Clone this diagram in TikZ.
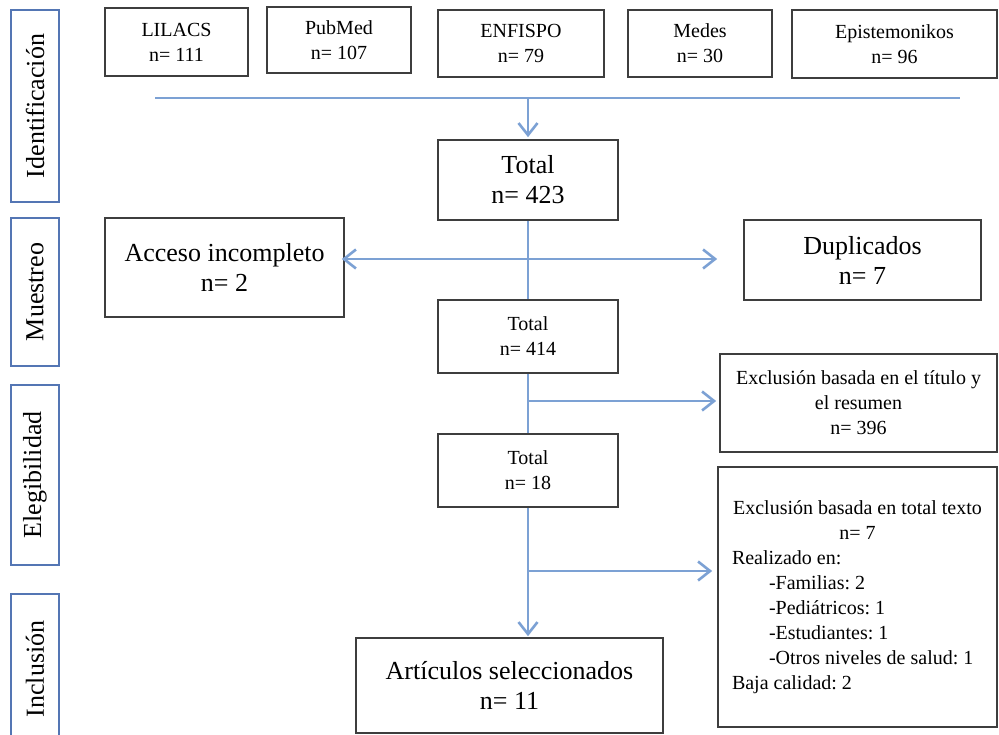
\documentclass[tikz,border=0pt]{standalone}
\usepackage{fontspec}
\setmainfont{Liberation Serif}
\usetikzlibrary{arrows.meta}
\definecolor{flowblue}{RGB}{124,161,212}
\definecolor{sideblue}{RGB}{84,118,180}
\definecolor{boxgray}{RGB}{62,62,62}
\frenchspacing
\begin{document}
\begin{tikzpicture}[x=1pt,y=-1pt,
  box/.style={draw=boxgray, line width=1.7pt, align=center, inner sep=0pt, fill=white},
  small/.style={font=\fontsize{20}{25}\selectfont},
  large/.style={font=\fontsize{26}{30}\selectfont},
  side/.style={draw=sideblue, line width=1.7pt, inner sep=0pt, rotate=90,
               minimum height=48pt, font=\fontsize{26}{30}\selectfont},
  flow/.style={draw=flowblue, line width=2.6pt},
  arr/.style={flow, -{Straight Barb[length=12pt,width=19pt]}}]
\useasboundingbox (0,0) rectangle (999,735);
\clip (0,0) rectangle (999,735);
\fill[white] (0,0) rectangle (999,735);

% phase labels
\node[side, minimum width=192pt] (sid) at (35,106) {Identificación};
\node[side, minimum width=148pt] (smu) at (35,292) {Muestreo};
\node[side, minimum width=180pt] (sel) at (35,475) {Elegibilidad};
\node[side, minimum width=150pt] (sin) at (35,669) {Inclusión};

% sources
\node[box, small, minimum width=143pt, minimum height=68pt] (lil) at (176.5,42) {LILACS\\n= 111};
\node[box, small, minimum width=144pt, minimum height=66pt] (pub) at (339,40) {PubMed\\n= 107};
\node[box, small, minimum width=166pt, minimum height=67pt] (enf) at (521,43.5) {ENFISPO\\n= 79};
\node[box, small, minimum width=144pt, minimum height=67pt] (med) at (700,43.5) {Medes\\n= 30};
\node[box, small, minimum width=205pt, minimum height=68pt] (epi) at (894.5,44) {Epistemonikos\\n= 96};

% main column
\node[box, large, minimum width=180pt, minimum height=80pt] (t423) at (528,180) {Total\\n= 423};
\node[box, large, minimum width=239pt, minimum height=99pt] (acc) at (224.5,267.5) {Acceso incompleto\\n= 2};
\node[box, large, minimum width=237pt, minimum height=80pt] (dup) at (862.5,260) {Duplicados\\n= 7};
\node[box, small, minimum width=180pt, minimum height=73pt] (t414) at (528,336.5) {Total\\n= 414};
\node[box, small, minimum width=277pt, minimum height=98pt] (ext) at (858.5,403) {Exclusión basada en el título y\\el resumen\\n= 396};
\node[box, small, minimum width=180pt, minimum height=73pt] (t18) at (528,470.5) {Total\\n= 18};
\node[box, small, align=flush left, text width=251pt, inner xsep=14pt, minimum height=260pt] (exf) at (857.5,597)
  {\makebox[\linewidth]{Exclusión basada en total texto}\\
   \makebox[\linewidth]{n= 7}\\
   Realizado en:\\
   \hspace*{37pt}-Familias: 2\\
   \hspace*{37pt}-Pediátricos: 1\\
   \hspace*{37pt}-Estudiantes: 1\\
   \hspace*{37pt}-Otros niveles de salud: 1\\
   Baja calidad: 2};
\node[box, large, minimum width=307pt, minimum height=95pt] (art) at (509.5,685.5) {Artículos seleccionados\\n= 11};

% connectors
\coordinate (hl) at (155,98);
\coordinate (hr) at (960,98);
\coordinate (hm) at (528,98);
\coordinate (j1) at (528,259);
\coordinate (j2) at (528,401);
\coordinate (j3) at (528,571);
\draw[flow] (hl) -- (hr);
\draw[arr, shorten >=2pt] (hm) -- (t423.north);
\draw[flow] (t423.south) -- (t414.north);
\draw[arr, shorten >=-3pt] (j1) -- (j1 -| acc.east);
\draw[arr, shorten >=26pt] (j1) -- (j1 -| dup.west);
\draw[flow] (t414.south) -- (t18.north);
\draw[arr, shorten >=3pt] (j2) -- (j2 -| ext.west);
\draw[arr, shorten >=5pt] (j3) -- (j3 -| exf.west);
\draw[arr, shorten >=1pt] (t18.south) -- (t18.south |- art.north);
\end{tikzpicture}
\end{document}
